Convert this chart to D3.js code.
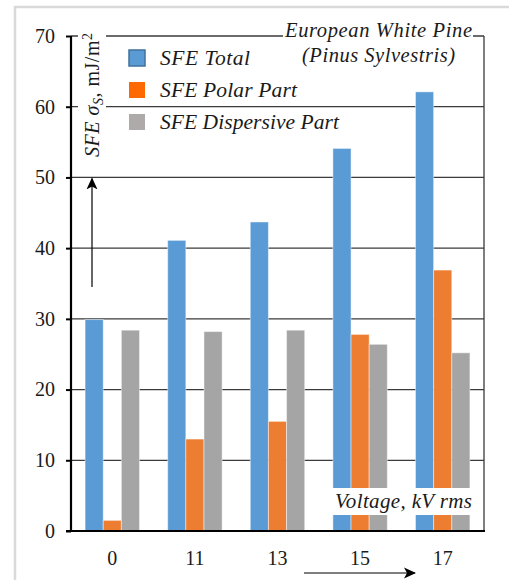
<!DOCTYPE html>
<html>
<head>
<meta charset="utf-8">
<script src="https://cdn.jsdelivr.net/npm/d3@7/dist/d3.min.js"></script>
<style>
  html, body { margin: 0; padding: 0; background: #fff; }
  svg { display: block; }
  text { font-family: "Liberation Serif", "Times New Roman", serif; fill: #1a1a1a; }
</style>
</head>
<body>
<div id="chart"></div>
<script>
// Surface free energy of European white pine vs. treatment voltage
const categories = ["0", "11", "13", "15", "17"];
const sfeTotal = [29.9, 41.1, 43.7, 54.1, 62.1];
const sfePolar = [1.5, 13.0, 15.5, 27.8, 36.9];
const sfeDispersive = [28.4, 28.2, 28.4, 26.4, 25.2];
const yTicks = [0, 10, 20, 30, 40, 50, 60, 70];
const seriesNames = ["SFE Total", "SFE Polar Part", "SFE Dispersive Part"];
const barColors = ["#5B9BD5", "#ED7D31", "#A5A5A5"];
const legendColors = ["#5B9BD5", "#FF6A00", "#AEAAAA"];

const W = 509, H = 580;
const plotLeft = 71, plotRight = 484, plotTop = 36, plotBottom = 531;

const svg = d3.select("#chart").append("svg")
  .attr("width", W).attr("height", H);

// partial outer frame
svg.append("rect")
  .attr("x", 15).attr("y", 7).attr("width", 700).attr("height", 700)
  .attr("fill", "none").attr("stroke", "#d9d9d9").attr("stroke-width", 2.5);

const x = d3.scaleBand().domain(categories).range([plotLeft, plotRight]).padding(0);
const y = d3.scaleLinear().domain([0, 70]).range([plotBottom, plotTop]);

const groupFrac = 0.659;
const xs = d3.scaleBand().domain([0, 1, 2])
  .range([0, x.bandwidth() * groupFrac]).padding(0);
const groupOffset = x.bandwidth() * (1 - groupFrac) / 2;

// horizontal gridlines
svg.append("g").selectAll("line").data(yTicks.filter(t => t > 0)).join("line")
  .attr("x1", plotLeft).attr("x2", plotRight)
  .attr("y1", d => y(d)).attr("y2", d => y(d))
  .attr("stroke", "#3a3a3a").attr("stroke-width", 1.3);

// right frame edge
svg.append("line")
  .attr("x1", plotRight).attr("x2", plotRight).attr("y1", y(70)).attr("y2", plotBottom)
  .attr("stroke", "#3a3a3a").attr("stroke-width", 1.3);

// bars
const series = [sfeTotal, sfePolar, sfeDispersive];
const rows = [];
categories.forEach((c, i) => series.forEach((s, k) => rows.push({ c, k, v: s[i] })));
svg.append("g").selectAll("rect").data(rows).join("rect")
  .attr("x", d => x(d.c) + groupOffset + xs(d.k))
  .attr("width", xs.bandwidth())
  .attr("y", d => y(d.v))
  .attr("height", d => y(0) - y(d.v))
  .attr("fill", d => barColors[d.k])
  .attr("stroke", "#ffffff").attr("stroke-opacity", 0.45).attr("stroke-width", 1);

// y axis
const yAxis = svg.append("g").attr("transform", `translate(${plotLeft},0)`)
  .call(d3.axisLeft(y).tickValues(yTicks).tickSize(5).tickPadding(11));
yAxis.select(".domain").attr("stroke", "#000").attr("stroke-width", 2.2)
  .attr("d", `M0,${y(70)}V${plotBottom}`);
yAxis.selectAll(".tick line").attr("stroke", "#000").attr("stroke-width", 2);
yAxis.selectAll(".tick text")
  .attr("font-family", "Liberation Serif, serif").attr("font-size", 20)
  .attr("fill", "#1a1a1a");

// x axis
const xAxis = svg.append("g").attr("transform", `translate(0,${plotBottom})`)
  .call(d3.axisBottom(x).tickSize(0).tickPadding(20));
xAxis.select(".domain").attr("stroke", "#000").attr("stroke-width", 2.2)
  .attr("d", `M${plotLeft - 5},0H${plotRight + 1}`);
xAxis.selectAll(".tick text")
  .attr("font-family", "Liberation Serif, serif").attr("font-size", 20)
  .attr("fill", "#1a1a1a");

// y axis title with background
svg.append("rect").attr("x", 78).attr("y", 28).attr("width", 28).attr("height", 138)
  .attr("fill", "#fff");
const yl = svg.append("text")
  .attr("transform", "translate(99,157) rotate(-90)")
  .attr("font-size", 20)
  .attr("textLength", 124).attr("lengthAdjust", "spacing");
yl.append("tspan").attr("font-style", "italic").text("SFE σ");
yl.append("tspan").attr("font-style", "italic").attr("font-size", 14).attr("dy", 4).text("S");
yl.append("tspan").attr("dy", -4).text(", mJ/m");
yl.append("tspan").attr("font-size", 14).attr("dy", -7).text("2");

// arrowhead
const defs = svg.append("defs");
defs.append("marker").attr("id", "head")
  .attr("viewBox", "0 0 12 12").attr("refX", 11).attr("refY", 6)
  .attr("markerWidth", 12).attr("markerHeight", 12)
  .attr("markerUnits", "userSpaceOnUse").attr("orient", "auto")
  .append("path").attr("d", "M0,0.5 L12,6 L0,11.5 L3,6 Z").attr("fill", "#000");

// vertical arrow
svg.append("line")
  .attr("x1", 92).attr("x2", 92).attr("y1", 287).attr("y2", y(50) + 1)
  .attr("stroke", "#000").attr("stroke-width", 1.2).attr("marker-end", "url(#head)");

// horizontal arrow under the axis
svg.append("line")
  .attr("x1", 304).attr("x2", 415).attr("y1", 573).attr("y2", 573)
  .attr("stroke", "#000").attr("stroke-width", 1.2).attr("marker-end", "url(#head)");

// title block
svg.append("rect").attr("x", 283).attr("y", 18).attr("width", 190).attr("height", 50)
  .attr("fill", "#fff");
svg.append("text").attr("x", 285).attr("y", 37)
  .attr("font-size", 20.5).attr("font-style", "italic")
  .attr("textLength", 187).attr("lengthAdjust", "spacing")
  .text("European White Pine");
svg.append("text").attr("x", 302).attr("y", 62)
  .attr("font-size", 20.5).attr("font-style", "italic")
  .attr("textLength", 153).attr("lengthAdjust", "spacing")
  .text("(Pinus Sylvestris)");

// legend
const legendW = [90, 137, 179];
const lg = svg.append("g").selectAll("g").data(seriesNames).join("g")
  .attr("transform", (d, i) => `translate(129,${50 + i * 32})`);
lg.append("rect").attr("width", 16).attr("height", 16)
  .attr("fill", (d, i) => legendColors[i])
  .attr("stroke", (d, i) => i === 0 ? "#41719C" : "none").attr("stroke-width", 1.5);
lg.append("text").attr("x", 31).attr("y", 15)
  .attr("font-size", 21.5).attr("font-style", "italic")
  .attr("textLength", (d, i) => legendW[i]).attr("lengthAdjust", "spacing")
  .text(d => d);

// x axis title with background
svg.append("rect").attr("x", 332).attr("y", 488).attr("width", 140).attr("height", 27)
  .attr("fill", "#fff");
svg.append("text").attr("x", 335).attr("y", 508)
  .attr("font-size", 21).attr("font-style", "italic")
  .attr("textLength", 137).attr("lengthAdjust", "spacing")
  .text("Voltage, kV rms");
</script>
</body>
</html>
